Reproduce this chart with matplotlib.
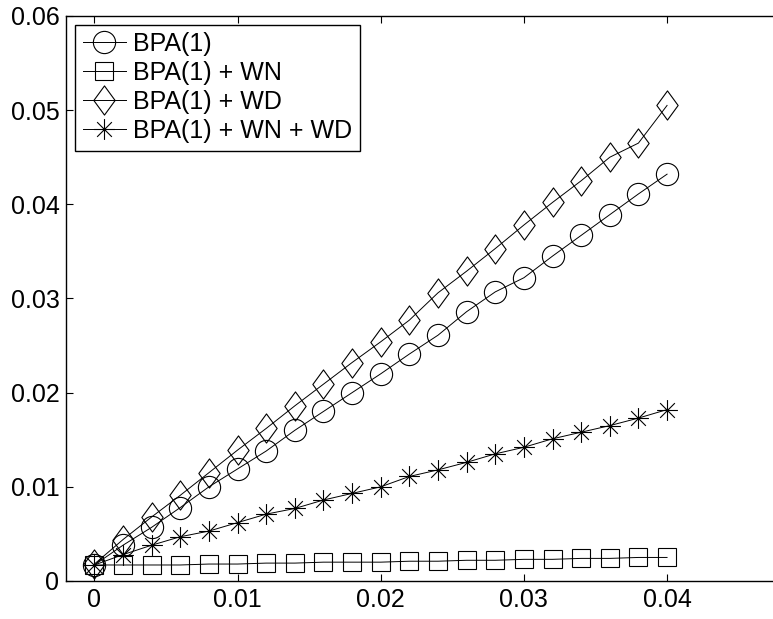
import numpy as np
import matplotlib.pyplot as plt
from matplotlib.path import Path

# data
x = [0.000, 0.002, 0.004, 0.006, 0.008, 0.010, 0.012, 0.014, 0.016, 0.018, 0.020,
     0.022, 0.024, 0.026, 0.028, 0.030, 0.032, 0.034, 0.036, 0.038, 0.040]
bpa = [0.0017, 0.0038, 0.0057, 0.0078, 0.0100, 0.0119, 0.0138, 0.0160, 0.0180, 0.0200, 0.0220,
       0.0241, 0.0261, 0.0286, 0.0307, 0.0322, 0.0345, 0.0367, 0.0389, 0.0411, 0.0432]
bpa_wn = [0.0017, 0.0017, 0.0017, 0.0017, 0.0018, 0.0018, 0.0019, 0.0019, 0.0020, 0.0020, 0.0020,
          0.0021, 0.0021, 0.0022, 0.0022, 0.0023, 0.0023, 0.0024, 0.0024, 0.0025, 0.0025]
bpa_wd = [0.0018, 0.0044, 0.0068, 0.0091, 0.0115, 0.0139, 0.0162, 0.0186, 0.0209, 0.0232, 0.0254,
          0.0277, 0.0306, 0.0329, 0.0353, 0.0378, 0.0402, 0.0425, 0.0450, 0.0465, 0.0505]
bpa_wn_wd = [0.0017, 0.0028, 0.0038, 0.0047, 0.0053, 0.0062, 0.0071, 0.0077, 0.0086, 0.0093, 0.0100,
             0.0111, 0.0118, 0.0126, 0.0135, 0.0142, 0.0151, 0.0158, 0.0165, 0.0173, 0.0182]
labels = ["BPA(1)", "BPA(1) + WN", "BPA(1) + WD", "BPA(1) + WN + WD"]

plt.rcParams['font.family'] = ['Liberation Sans', 'DejaVu Sans']
plt.rcParams['font.size'] = 18

# matlab-ish markers: taller diamond and 8-arm asterisk
diamond = Path([(0, 1), (0.73, 0), (0, -1), (-0.73, 0), (0, 1)],
               [Path.MOVETO, Path.LINETO, Path.LINETO, Path.LINETO, Path.CLOSEPOLY])
d = 0.7071
star = Path([(-1, 0), (1, 0), (0, -1), (0, 1), (-d, -d), (d, d), (-d, d), (d, -d)],
            [Path.MOVETO, Path.LINETO] * 4)

fig = plt.figure(figsize=(7.73, 6.19), dpi=100)
ax = fig.add_axes([0.0858, 0.0614, 0.9142, 0.9128])

style = dict(color='black', lw=0.7, mfc='none', mec='black', mew=0.8)
ax.plot(x, bpa, marker='o', ms=16, label=labels[0], **style)
ax.plot(x, bpa_wn, marker='s', ms=12.5, label=labels[1], **style)
ax.plot(x, bpa_wd, marker=diamond, ms=21, label=labels[2], **style)
ax.plot(x, bpa_wn_wd, marker=star, ms=15, label=labels[3], **style)

ax.set_xlim(-0.00196, 0.0474)
ax.set_ylim(0, 0.06)
ax.set_xticks([0, 0.01, 0.02, 0.03, 0.04])
ax.set_xticklabels(["0", "0.01", "0.02", "0.03", "0.04"])
ax.set_yticks([0, 0.01, 0.02, 0.03, 0.04, 0.05, 0.06])
ax.set_yticklabels(["0", "0.01", "0.02", "0.03", "0.04", "0.05", "0.06"])
ax.tick_params(direction='in', length=5, width=0.8, top=True, right=False, pad=5)
ax.spines['right'].set_visible(False)
for s in ['left', 'top', 'bottom']:
    ax.spines[s].set_linewidth(1.0)

leg = ax.legend(loc='upper left', fancybox=False, edgecolor='black', framealpha=1,
                handlelength=1.75, handletextpad=0.28, labelspacing=0.2,
                borderpad=0.3, borderaxespad=0.35)
leg.get_frame().set_linewidth(1.0)

fig.savefig("out.png", dpi=100)
